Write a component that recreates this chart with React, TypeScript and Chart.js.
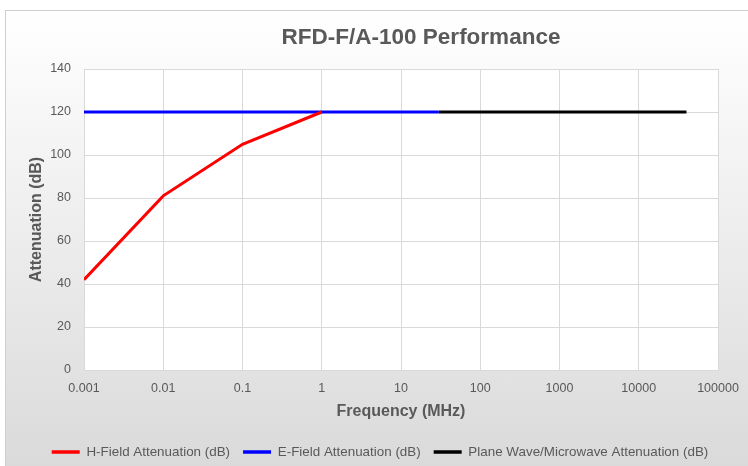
import React, { useEffect, useRef } from "react";
import { Chart, registerables } from "chart.js";

Chart.register(...registerables);

const chartTitle = "RFD-F/A-100 Performance";
const xAxisTitle = "Frequency (MHz)";
const yAxisTitle = "Attenuation (dB)";

const xTickValues = [0.001, 0.01, 0.1, 1, 10, 100, 1000, 10000, 100000];
const xTickLabels = ["0.001", "0.01", "0.1", "1", "10", "100", "1000", "10000", "100000"];

const seriesNames = [
  "H-Field Attenuation (dB)",
  "E-Field Attenuation (dB)",
  "Plane Wave/Microwave Attenuation (dB)",
];
const seriesColors = ["#ff0000", "#0000ff", "#000000"];

const hFieldFreq = [0.001, 0.01, 0.1, 1];
const hFieldAtt = [42, 81, 105, 120];

const eFieldFreq = [0.001, 30];
const eFieldAtt = [120, 120];

const planeWaveFreq = [30, 40000];
const planeWaveAtt = [120, 120];

const FONT = '"Liberation Sans", Arial, sans-serif';
const TEXT = "#595959";
const GRID = "#d9d9d9";

const toPoints = (xs: number[], ys: number[]) => xs.map((x, i) => ({ x, y: ys[i] }));

export default function App() {
  const ref = useRef<HTMLCanvasElement | null>(null);

  useEffect(() => {
    if (!ref.current) return;

    const plotBg = {
      id: "plotBg",
      beforeDraw(chart: any) {
        const { ctx, chartArea } = chart;
        ctx.save();
        ctx.fillStyle = "#ffffff";
        ctx.fillRect(chartArea.left, chartArea.top, chartArea.right - chartArea.left, chartArea.bottom - chartArea.top);
        ctx.restore();
      },
    };

    const shiftBoxes = {
      id: "shiftBoxes",
      afterLayout(chart: any) {
        const t = chart.titleBlock;
        if (t) {
          t.left += 62;
          t.right += 62;
        }
        const l = chart.legend;
        if (l) {
          l.left += 21;
          l.right += 21;
          l.top += 2.7;
          l.bottom += 2.7;
        }
      },
    };

    const datasets = [
      toPoints(hFieldFreq, hFieldAtt),
      toPoints(eFieldFreq, eFieldAtt),
      toPoints(planeWaveFreq, planeWaveAtt),
    ].map((data, i) => ({
      label: seriesNames[i],
      data,
      borderColor: seriesColors[i],
      backgroundColor: seriesColors[i],
      borderWidth: 3,
      pointRadius: 0,
      pointHoverRadius: 0,
      tension: 0,
      fill: false,
    }));

    const chart = new Chart(ref.current, {
      type: "line",
      data: { datasets },
      plugins: [plotBg, shiftBoxes],
      options: {
        animation: false,
        responsive: false,
        devicePixelRatio: 1,
        layout: { padding: { left: 0, right: 30, top: 0, bottom: 0 } },
        plugins: {
          title: {
            display: true,
            text: chartTitle,
            color: TEXT,
            font: { family: FONT, size: 22.5, weight: "bold", lineHeight: 1.2 },
            padding: { top: 24, bottom: 18 },
          },
          legend: {
            display: true,
            position: "bottom",
            labels: {
              color: TEXT,
              font: { family: FONT, size: 13.4 },
              boxWidth: 28,
              boxHeight: 3.5,
              padding: 13,
              generateLabels: (c: any) =>
                (Chart.defaults.plugins.legend.labels as any).generateLabels(c).map((l: any) => ({ ...l, lineWidth: 0 })),
            },
          },
          tooltip: { enabled: false },
        },
        scales: {
          x: {
            type: "logarithmic",
            min: 0.001,
            max: 100000,
            afterBuildTicks: (scale: any) => {
              scale.ticks = xTickValues.map((v) => ({ value: v }));
            },
            afterFit: (scale: any) => {
              scale.height = 59.6;
              scale.paddingRight = 0;
              scale.paddingLeft = 0;
            },
            ticks: {
              color: TEXT,
              font: { family: FONT, size: 12.5 },
              padding: 11.5,
              autoSkip: false,
              maxRotation: 0,
              callback: (value: any) => {
                const idx = xTickValues.findIndex((v) => Math.abs(Math.log10(v) - Math.log10(Number(value))) < 1e-6);
                return idx >= 0 ? xTickLabels[idx] : "";
              },
            },
            grid: { color: GRID, lineWidth: 1, drawTicks: false },
            border: { color: GRID },
            title: {
              display: true,
              text: xAxisTitle,
              color: TEXT,
              font: { family: FONT, size: 16, weight: "bold", lineHeight: 1.2 },
              padding: { top: 0, bottom: 8 },
            },
          },
          y: {
            type: "linear",
            min: 0,
            max: 140,
            afterFit: (scale: any) => {
              scale.width = 84;
            },
            ticks: {
              stepSize: 20,
              color: TEXT,
              font: { family: FONT, size: 12.5 },
              padding: 13,
            },
            grid: { color: GRID, lineWidth: 1, drawTicks: false },
            border: { color: GRID },
            title: {
              display: true,
              text: yAxisTitle,
              color: TEXT,
              font: { family: FONT, size: 16, weight: "bold", lineHeight: 1.2 },
              padding: { top: 27, bottom: 0 },
            },
          },
        },
      } as any,
    });

    return () => chart.destroy();
  }, []);

  return (
    <div style={{ position: "fixed", left: 0, top: 0, width: 748, height: 466, overflow: "hidden", background: "#ffffff" }}>
      <div
        style={{
          position: "absolute",
          left: 5,
          top: 10,
          width: 760,
          height: 470,
          boxSizing: "border-box",
          border: "1px solid #d0d0d0",
          background: "linear-gradient(180deg, #ffffff 0%, #ececec 50%, #d9d9d9 100%)",
        }}
      />
      <canvas ref={ref} width={748} height={466} style={{ position: "absolute", left: 0, top: 0, width: 748, height: 466 }} />
    </div>
  );
}
